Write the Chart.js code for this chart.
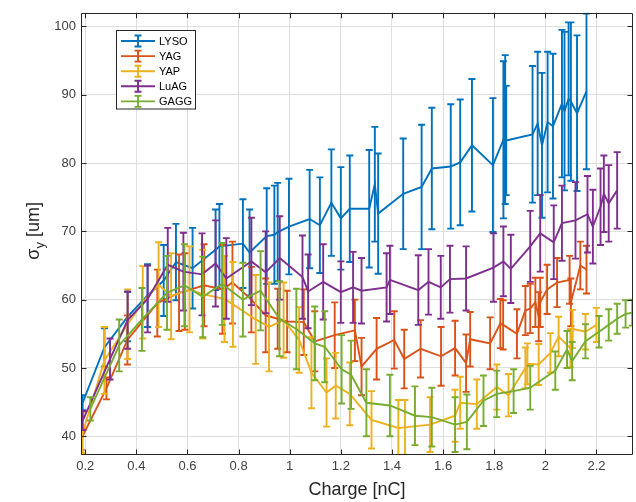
<!DOCTYPE html>
<html><head><meta charset="utf-8">
<script src="https://cdn.jsdelivr.net/npm/chart.js@4/dist/chart.umd.min.js"></script>
<style>html,body{margin:0;padding:0;background:#fff}</style>
</head><body>
<canvas id="c" width="636" height="502"></canvas>
<script>
const seriesNames = ['LYSO', 'YAG', 'YAP', 'LuAG', 'GAGG'];
const seriesColors = ['#0072BD', '#D95319', '#EDB120', '#7E2F8E', '#77AC30'];

const lysoX = [0.19,0.275,0.366,0.444,0.507,0.555,0.62,0.71,0.725,0.817,0.843,0.91,0.94,0.953,0.997,1.078,1.118,1.163,1.2,1.235,1.311,1.333,1.346,1.444,1.516,1.556,1.63,1.667,1.713,1.795,1.836,1.843,1.847,1.95,1.97,1.987,2.009,2.03,2.065,2.075,2.091,2.1,2.124,2.161];
const lysoY = [44.9,53.0,57.5,60.6,62.8,65.5,64.6,67.3,67.8,68.2,66.9,69.3,69.5,69.9,70.7,71.8,70.9,74.2,71.9,73.3,73.3,76.9,72.6,75.5,76.5,79.2,79.5,80.1,82.6,79.7,83.4,84.9,83.3,84.2,85.8,82.6,86.0,85.4,88.7,87.6,89.4,89.0,87.3,90.5];
const lysoErr = [1.1,2.8,3.6,4.6,5.2,5.6,5.9,5.9,6.2,6.5,6.3,7.0,7.2,7.2,7.0,7.2,7.0,7.8,7.5,7.8,8.6,8.4,8.8,8.1,9.1,8.9,9.1,9.2,9.7,9.8,11.5,10.9,8.0,10.0,10.5,10.6,10.3,10.6,10.8,11.6,11.2,11.6,11.4,11.4];

const yagX = [0.184,0.283,0.365,0.482,0.567,0.59,0.665,0.737,0.776,0.85,0.906,0.953,0.99,1.055,1.098,1.176,1.255,1.281,1.34,1.409,1.448,1.512,1.592,1.647,1.69,1.706,1.784,1.824,1.835,1.889,1.922,1.941,1.961,1.974,1.98,2.007,2.046,2.095,2.1,2.137,2.161];
const yagY = [39.6,47.0,54.1,59.5,61.0,61.2,62.1,61.5,62.5,60.0,57.7,57.2,56.8,56.7,53.9,54.8,55.5,50.2,52.8,54.1,51.3,52.8,51.7,52.9,50.7,54.2,53.6,56.5,56.3,55.0,58.4,58.7,59.6,57.5,59.6,61.5,62.5,62.9,59.6,65.0,64.4];
const yagErr = [1.6,1.6,3.6,4.9,5.6,5.6,6.0,6.5,6.0,4.8,5.4,4.4,4.5,4.8,4.4,4.8,4.5,4.2,4.5,4.2,4.3,4.2,4.3,4.0,4.2,4.0,3.8,3.6,3.6,3.6,3.6,3.6,3.6,3.6,3.6,3.6,3.6,3.5,3.5,3.5,3.5];

const yapX = [0.19,0.275,0.366,0.425,0.487,0.536,0.608,0.66,0.745,0.778,0.867,0.919,0.976,1.037,1.085,1.144,1.18,1.235,1.32,1.425,1.451,1.549,1.647,1.667,1.732,1.81,1.856,1.922,1.93,1.974,2.02,2.052,2.098,2.107,2.157,2.2];
const yapY = [40.5,51.1,56.4,59.6,62.2,60.5,61.5,60.8,60.1,59.3,57.1,56.0,57.0,54.1,49.3,46.4,47.4,46.2,42.4,41.2,41.3,41.7,43.0,44.9,44.7,47.2,46.0,50.0,50.6,50.5,52.2,54.6,52.9,55.7,55.3,56.3];
const yapErr = [3.0,4.9,5.1,5.3,6.2,6.3,6.3,6.5,6.3,6.2,6.5,6.5,5.5,4.8,5.2,5.0,4.8,4.6,4.2,4.1,4.0,4.0,3.8,3.8,3.6,3.3,3.1,3.0,3.0,3.0,2.9,2.9,2.8,2.8,2.6,2.5];

const luagX = [0.19,0.297,0.366,0.444,0.523,0.584,0.657,0.71,0.752,0.85,0.906,0.961,1.05,1.072,1.131,1.2,1.248,1.281,1.379,1.392,1.503,1.543,1.591,1.627,1.69,1.797,1.836,1.865,1.941,1.98,2.033,2.065,2.118,2.165,2.186,2.216,2.229,2.248,2.281];
const luagY = [42.3,51.3,57.0,60.1,65.1,64.1,63.7,65.3,63.1,65.6,64.0,66.1,63.3,61.2,62.6,61.1,61.8,61.3,61.8,62.9,61.4,62.6,61.8,63.0,63.1,64.7,65.6,64.5,67.8,69.7,68.4,71.2,71.6,72.5,70.7,73.6,75.5,74.1,76.0];
const luagErr = [1.4,3.0,4.2,4.9,5.4,5.7,6.0,6.3,5.9,6.4,6.0,6.1,6.1,5.4,5.5,4.5,5.2,4.8,5.0,5.0,5.1,4.8,4.6,4.9,4.7,5.0,5.1,5.0,5.2,5.6,5.4,5.5,5.6,5.6,5.4,5.6,5.6,5.6,5.6];

const gaggX = [0.22,0.333,0.422,0.52,0.588,0.66,0.736,0.817,0.886,0.96,1.026,1.098,1.137,1.203,1.24,1.3,1.392,1.49,1.556,1.647,1.693,1.758,1.81,1.876,1.941,2.039,2.085,2.105,2.157,2.21,2.248,2.281,2.314,2.34];
const gaggY = [44.0,53.3,57.1,61.0,62.1,60.4,62.3,60.0,61.3,57.2,55.7,53.6,53.1,49.8,49.0,44.9,44.5,43.0,42.8,41.7,42.1,45.2,46.2,46.6,47.1,49.6,52.7,51.0,53.9,55.3,56.3,57.2,57.9,58.1];
const gaggErr = [1.7,3.8,4.6,5.4,6.0,5.9,6.0,5.4,5.8,5.5,5.9,5.4,5.2,5.0,5.0,4.9,4.5,4.3,4.3,4.0,4.0,3.7,3.4,3.2,3.2,2.8,2.7,2.8,2.5,2.3,2.3,2.2,2.0,1.9];

const xTicks = [0.2,0.4,0.6,0.8,1,1.2,1.4,1.6,1.8,2,2.2];
const xTickLabels = ['0.2','0.4','0.6','0.8','1','1.2','1.4','1.6','1.8','2','2.2'];
const yTicks = [40,50,60,70,80,90,100];
const xMin = 0.1835, xMax = 2.343, yMin = 37.25, yMax = 102.0;
const xTitle = 'Charge [nC]';
const yTitleParts = ['\u03C3', 'y', ' [um]'];

const allX = [lysoX, yagX, yapX, luagX, gaggX];
const allY = [lysoY, yagY, yapY, luagY, gaggY];
const allE = [lysoErr, yagErr, yapErr, luagErr, gaggErr];

const AX = '#262626';
const TICKC = '#404040';
const FONT = '"Liberation Sans", Arial, Helvetica, sans-serif';
const LW = 1.9;

const datasets = seriesNames.map((name, k) => ({
  label: name,
  data: allX[k].map((x, i) => ({x: x, y: allY[k][i], e: allE[k][i]})),
  borderColor: seriesColors[k],
  backgroundColor: seriesColors[k],
  borderWidth: LW,
  showLine: true,
  pointRadius: 0,
  tension: 0,
  order: seriesNames.length - k
}));

const errorBarPlugin = {
  id: 'errorBars',
  afterDatasetDraw(chart, args) {
    const ds = chart.data.datasets[args.index];
    const xs = chart.scales.x, ys = chart.scales.y;
    const ctx = chart.ctx, ca = chart.chartArea;
    const cap = 3.5;
    ctx.save();
    ctx.beginPath();
    ctx.rect(ca.left, ca.top, ca.right - ca.left, ca.bottom - ca.top);
    ctx.clip();
    ctx.strokeStyle = ds.borderColor;
    ctx.lineWidth = ds.borderWidth;
    ctx.beginPath();
    ds.data.forEach(p => {
      const x = xs.getPixelForValue(p.x);
      const y1 = ys.getPixelForValue(p.y - p.e);
      const y2 = ys.getPixelForValue(p.y + p.e);
      ctx.moveTo(x, y1); ctx.lineTo(x, y2);
      ctx.moveTo(x - cap, y1); ctx.lineTo(x + cap, y1);
      ctx.moveTo(x - cap, y2); ctx.lineTo(x + cap, y2);
    });
    ctx.stroke();
    ctx.restore();
  }
};

const boxPlugin = {
  id: 'boxTicks',
  afterDatasetsDraw(chart) {
    const ctx = chart.ctx, ca = chart.chartArea;
    const xs = chart.scales.x, ys = chart.scales.y;
    const tl = 5.5;
    ctx.save();
    ctx.strokeStyle = AX;
    ctx.lineWidth = 1;
    ctx.beginPath();
    ctx.rect(Math.round(ca.left) + 0.5, Math.round(ca.top) + 0.5, Math.round(ca.right - ca.left) - 1, Math.round(ca.bottom - ca.top) - 1);
    xTicks.forEach(v => {
      const px = Math.round(xs.getPixelForValue(v)) + 0.5;
      ctx.moveTo(px, ca.bottom); ctx.lineTo(px, ca.bottom - tl);
      ctx.moveTo(px, ca.top); ctx.lineTo(px, ca.top + tl);
    });
    yTicks.forEach(v => {
      const py = Math.round(ys.getPixelForValue(v)) + 0.5;
      ctx.moveTo(ca.left, py); ctx.lineTo(ca.left + tl, py);
      ctx.moveTo(ca.right, py); ctx.lineTo(ca.right - tl, py);
    });
    ctx.stroke();
    ctx.restore();
  },
  afterDraw(chart) {
    const ctx = chart.ctx, ca = chart.chartArea;
    // y axis title with subscript
    ctx.save();
    ctx.fillStyle = AX;
    ctx.textBaseline = 'alphabetic';
    const big = '18px ' + FONT, small = '13px ' + FONT;
    ctx.font = big; const w0 = ctx.measureText(yTitleParts[0]).width;
    ctx.font = small; const w1 = ctx.measureText(yTitleParts[1]).width;
    ctx.font = big; const w2 = ctx.measureText(yTitleParts[2]).width;
    const total = w0 + w1 + w2;
    ctx.translate(39, (ca.top + ca.bottom) / 2 - 3);
    ctx.rotate(-Math.PI / 2);
    let x = -total / 2;
    ctx.font = big; ctx.fillText(yTitleParts[0], x, 0); x += w0;
    ctx.font = small; ctx.fillText(yTitleParts[1], x, 5); x += w1;
    ctx.font = big; ctx.fillText(yTitleParts[2], x, 0);
    ctx.restore();

    // legend
    const lx = 116.5, ly = 30.5, lw = 79, lh = 78.5;
    ctx.save();
    ctx.fillStyle = '#ffffff';
    ctx.fillRect(lx, ly, lw, lh);
    ctx.strokeStyle = AX; ctx.lineWidth = 1;
    ctx.strokeRect(lx, ly, lw, lh);
    chart.data.datasets.forEach((ds, i) => {
      const y = 41 + i * 15.1;
      ctx.strokeStyle = ds.borderColor; ctx.lineWidth = LW;
      ctx.beginPath();
      ctx.moveTo(121, y); ctx.lineTo(155, y);
      ctx.moveTo(138, y - 5.5); ctx.lineTo(138, y + 5.5);
      ctx.moveTo(134.5, y - 5.5); ctx.lineTo(141.5, y - 5.5);
      ctx.moveTo(134.5, y + 5.5); ctx.lineTo(141.5, y + 5.5);
      ctx.stroke();
      ctx.fillStyle = '#000000';
      ctx.font = '11px ' + FONT;
      ctx.textBaseline = 'middle';
      ctx.textAlign = 'left';
      ctx.fillText(ds.label, 159, y + 0.5);
    });
    ctx.restore();
  }
};

new Chart(document.getElementById('c'), {
  type: 'scatter',
  data: { datasets: datasets },
  options: {
    responsive: false,
    animation: false,
    devicePixelRatio: 1,
    layout: { padding: { top: 7, right: 3, left: 0, bottom: 0 } },
    plugins: { legend: { display: false }, tooltip: { enabled: false } },
    scales: {
      x: {
        type: 'linear', min: xMin, max: xMax,
        afterBuildTicks: s => { s.ticks = xTicks.map(v => ({value: v})); },
        afterFit: s => { s.height = 47; },
        grid: { color: '#dfdfdf', lineWidth: 1, drawTicks: false },
        border: { display: false },
        ticks: { autoSkip: false, maxRotation: 0, padding: 4, color: TICKC, font: { size: 13, family: FONT },
                 callback: (v, i) => xTickLabels[i] },
        title: { display: true, text: xTitle, color: AX, font: { size: 18, family: FONT }, padding: { top: 0, bottom: 1 } }
      },
      y: {
        type: 'linear', min: yMin, max: yMax,
        afterBuildTicks: s => { s.ticks = yTicks.map(v => ({value: v})); },
        afterFit: s => { s.width = 81; },
        grid: { color: '#dfdfdf', lineWidth: 1, drawTicks: false },
        border: { display: false },
        ticks: { padding: 5, color: TICKC, font: { size: 13, family: FONT }, callback: v => String(v) }
      }
    }
  },
  plugins: [errorBarPlugin, boxPlugin]
});
</script>
</body></html>
